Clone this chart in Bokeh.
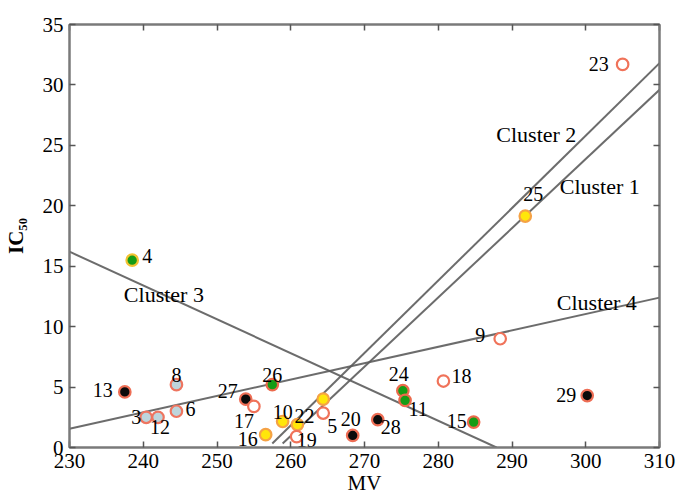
from bokeh.plotting import figure
from bokeh.models import ColumnDataSource, LinearAxis, FixedTicker, Range1d
from bokeh.embed import file_html
from bokeh.resources import INLINE
from bokeh.core.properties import value

# ---- data ----
ids = ["4", "13", "3", "12", "8", "6", "27", "17", "26", "16", "10", "22", "19",
       "", "5", "20", "28", "24", "11", "18", "15", "29", "9", "25", "23"]
mv = [238.5, 237.5, 240.4, 242.0, 244.5, 244.5, 253.9, 255.0, 257.5, 256.6, 258.9,
      260.9, 260.8, 264.4, 264.4, 268.4, 271.8, 275.2, 275.5, 280.7, 284.8, 300.2,
      288.4, 291.8, 305.0]
ic50 = [15.5, 4.6, 2.5, 2.5, 5.2, 3.0, 4.0, 3.4, 5.2, 1.06, 2.15, 1.9, 0.9, 4.0,
        2.85, 1.0, 2.3, 4.7, 3.9, 5.5, 2.1, 4.3, 9.0, 19.15, 31.7]
group = ["green4", "black", "blue", "blue", "blue", "blue", "black", "open", "green",
         "yellow", "yellow", "yellow", "open", "yellow", "open", "black", "black",
         "green", "green", "open", "green", "black", "open", "yellow", "open"]

cluster_names = ["Cluster 1", "Cluster 2", "Cluster 3", "Cluster 4"]
cluster_x0 = [258.9, 257.5, 230.0, 230.0]
cluster_y0 = [0.33, 0.33, 16.2, 1.55]
cluster_x1 = [310.0, 310.0, 287.9, 310.0]
cluster_y1 = [29.6, 31.8, 0.0, 12.4]
cluster_label_x = [301.9, 293.3, 242.8, 301.5]
cluster_label_y = [21.6, 25.9, 12.7, 12.0]

x_ticks = [230, 240, 250, 260, 270, 280, 290, 300, 310]
y_ticks = [0, 5, 10, 15, 20, 25, 30, 35]

# ---- styles / layout (not data) ----
fill_map = {"black": "#0b0b0b", "blue": "#bdd5dc", "open": "#ffffff",
            "green": "#159c15", "green4": "#159c15", "yellow": "#ffe60a"}
ring_map = {"black": "#ee6e55", "blue": "#ee7560", "open": "#f0735a",
            "green": "#ec6a4c", "green4": "#f2c232", "yellow": "#f5a245"}
# label offsets in pixels (dx right, dy down)
label_dx = [15, -22, -10, 2, 0, 14, -18, -10, 0, -18, 0, 7, 10, 0, 9, -2, 13, -4, 13,
            18, -17, -21, -20, 8, -24]
label_dy = [-4, -2, 0, 10, -10, -2, -8, 15, -10, 4, -10, -9, 3, 0, 13, -16, 7, -17, 9,
            -5, -1, -1, -4, -22, 0]

FONT = "Liberation Serif"

src = ColumnDataSource(dict(
    x=mv, y=ic50, label=ids,
    fill=[fill_map[g] for g in group],
    ring=[ring_map[g] for g in group],
    dx=label_dx, dy=label_dy,
))

p = figure(width=676, height=497, output_backend="svg", toolbar_location=None,
           x_range=Range1d(230, 310), y_range=Range1d(0, 35),
           min_border_left=69, min_border_right=17, min_border_top=24,
           min_border_bottom=50, background_fill_color="white",
           border_fill_color="white")
p.grid.visible = False
p.outline_line_color = "#7a7a7a"
p.outline_line_width = 2

def style_axis(ax, ticks, show_labels):
    ax.ticker = FixedTicker(ticks=ticks)
    ax.axis_line_color = "#7a7a7a"
    ax.axis_line_width = 2
    ax.major_tick_in = 6
    ax.major_tick_out = 0
    ax.major_tick_line_color = "#555555"
    ax.major_tick_line_width = 1.5
    ax.minor_tick_line_color = None
    ax.major_label_text_font = FONT
    ax.major_label_text_font_size = "21px"
    ax.major_label_text_color = "black"
    ax.axis_label_text_font = FONT
    ax.axis_label_text_font_size = "21px"
    ax.axis_label_text_color = "black"
    ax.axis_label_text_font_style = "normal"
    if not show_labels:
        ax.major_label_overrides = {t: "" for t in ticks}
        ax.major_label_standoff = 0

style_axis(p.xaxis[0], x_ticks, True)
style_axis(p.yaxis[0], y_ticks, True)
p.xaxis[0].major_label_standoff = 6
p.xaxis[0].axis_label = "MV"
p.xaxis[0].axis_label_standoff = 0
p.yaxis[0].major_label_standoff = 6
p.yaxis[0].axis_label = "IC\u2085\u2080"
p.yaxis[0].axis_label_text_font_style = "bold"
p.yaxis[0].axis_label_standoff = 12

top = LinearAxis()
right = LinearAxis()
style_axis(top, x_ticks, False)
style_axis(right, y_ticks, False)
p.add_layout(top, "above")
p.add_layout(right, "right")

# cluster lines
p.segment(x0=cluster_x0, y0=cluster_y0, x1=cluster_x1, y1=cluster_y1,
          line_color="#5c5c5c", line_width=2, line_alpha=0.9)

# points
p.scatter("x", "y", source=src, size=11.5, fill_color="fill", line_color="ring",
          line_width=2.2)

# point labels
p.text("x", "y", text="label", source=src, x_offset="dx", y_offset="dy",
       text_font=value(FONT), text_font_size="20px", text_align="center",
       text_baseline="middle", text_color="black")

# cluster labels
p.text(x=cluster_label_x, y=cluster_label_y, text=cluster_names,
       text_font=value(FONT), text_font_size="22px", text_align="center",
       text_baseline="middle", text_color="black")

open("out.html", "w").write(file_html(p, INLINE))
